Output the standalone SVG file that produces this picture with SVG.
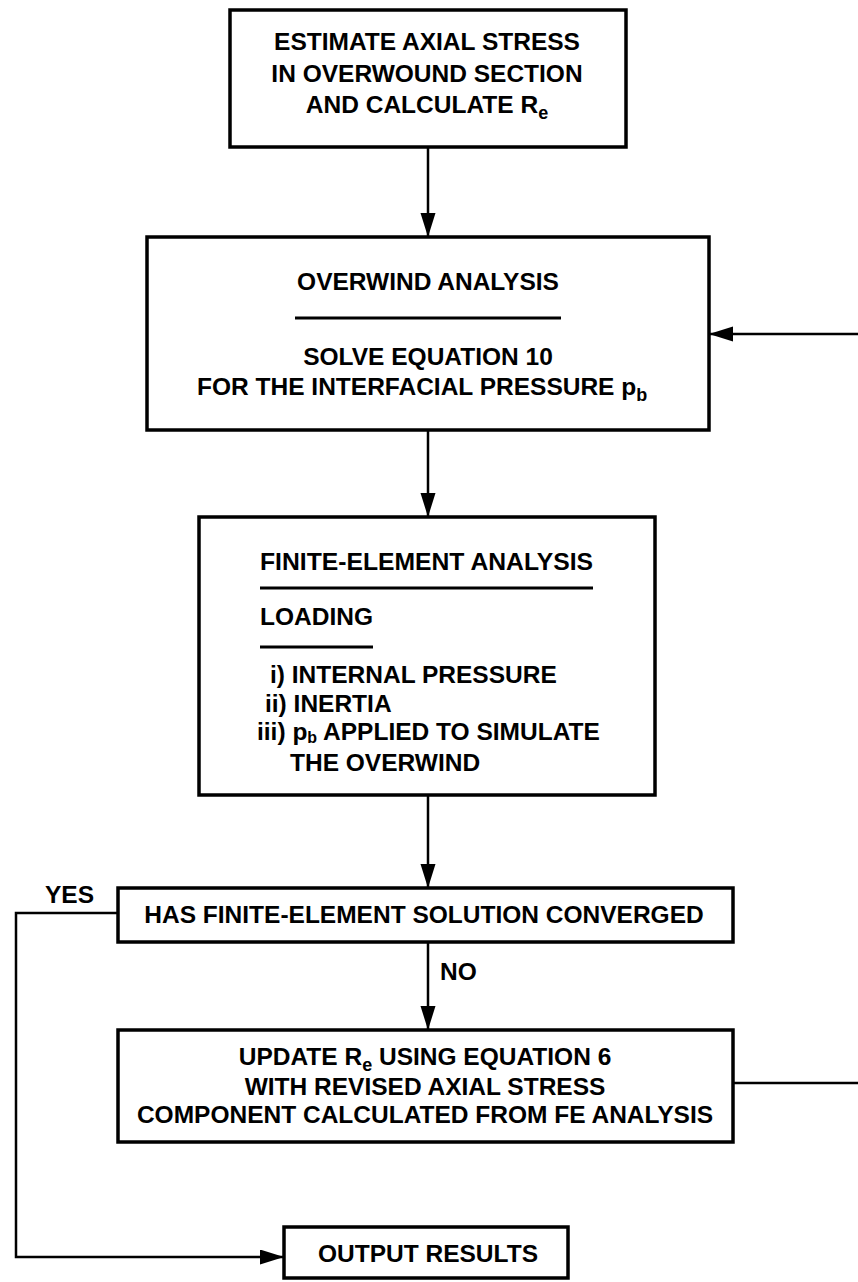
<svg xmlns="http://www.w3.org/2000/svg" width="858" height="1282" viewBox="0 0 858 1282">
<style>
.box{fill:#fff;stroke:#000;stroke-width:3.5}
.conn{fill:none;stroke:#000;stroke-width:2.5}
.rule{stroke:#000;stroke-width:3}
text{font-family:"Liberation Sans",Arial,Helvetica,sans-serif;font-weight:bold;font-size:24.5px;fill:#000}
.c{text-anchor:middle}
.sub{font-size:18px}
.sub2{font-size:16px}
</style>
<defs>
<marker id="ah" markerUnits="userSpaceOnUse" markerWidth="26" markerHeight="16" refX="24" refY="7.5" orient="auto">
<path d="M0,0 L24,7.5 L0,15 Z" fill="#000"/>
</marker>
</defs>
<rect width="858" height="1282" fill="#fff"/>
<g id="connectors">
<path class="conn" d="M428 147 V237" marker-end="url(#ah)"/>
<path class="conn" d="M428 430 V517" marker-end="url(#ah)"/>
<path class="conn" d="M428 795 V888" marker-end="url(#ah)"/>
<path class="conn" d="M428 942 V1030" marker-end="url(#ah)"/>
<path class="conn" d="M733 1083 H861 V334 H709" marker-end="url(#ah)"/>
<path class="conn" d="M118 913 H16 V1257 H284" marker-end="url(#ah)"/>
<text x="440" y="980">NO</text>
<text x="45" y="903">YES</text>
</g>
<g id="n1">
<rect class="box" x="230" y="10" width="396" height="137"/>
<text class="c" x="427" y="50">ESTIMATE AXIAL STRESS</text>
<text class="c" x="427" y="82">IN OVERWOUND SECTION</text>
<text class="c" x="427" y="113">AND CALCULATE R<tspan class="sub" dy="6">e</tspan></text>
</g>
<g id="n2">
<rect class="box" x="147" y="237" width="562" height="193"/>
<text class="c" x="428" y="290">OVERWIND ANALYSIS</text>
<line class="rule" x1="295" y1="318" x2="561" y2="318"/>
<text class="c" x="428" y="365">SOLVE EQUATION 10</text>
<text x="197" y="395">FOR THE INTERFACIAL PRESSURE p<tspan class="sub" dy="6">b</tspan></text>
</g>
<g id="n3">
<rect class="box" x="199" y="517" width="456" height="278"/>
<text x="260" y="570" textLength="333" lengthAdjust="spacingAndGlyphs">FINITE-ELEMENT ANALYSIS</text>
<line class="rule" x1="260" y1="588" x2="593" y2="588"/>
<text x="260" y="625">LOADING</text>
<line class="rule" x1="260" y1="647" x2="373" y2="647"/>
<text x="270" y="683">i) INTERNAL PRESSURE</text>
<text x="265" y="712">ii) INERTIA</text>
<text x="257" y="740">iii) p<tspan class="sub2" dy="3">b</tspan><tspan dy="-3"> APPLIED TO SIMULATE</tspan></text>
<text x="290" y="771">THE OVERWIND</text>
</g>
<g id="n4">
<rect class="box" x="118" y="888" width="615" height="54"/>
<text class="c" x="424" y="923">HAS FINITE-ELEMENT SOLUTION CONVERGED</text>
</g>
<g id="n5">
<rect class="box" x="118" y="1030" width="615" height="112"/>
<text class="c" x="425" y="1065">UPDATE R<tspan class="sub" dy="6">e</tspan><tspan dy="-6"> USING EQUATION 6</tspan></text>
<text class="c" x="425" y="1095">WITH REVISED AXIAL STRESS</text>
<text class="c" x="425" y="1123">COMPONENT CALCULATED FROM FE ANALYSIS</text>
</g>
<g id="n6">
<rect class="box" x="284" y="1227" width="284" height="51"/>
<text class="c" x="428" y="1262">OUTPUT RESULTS</text>
</g>
</svg>
